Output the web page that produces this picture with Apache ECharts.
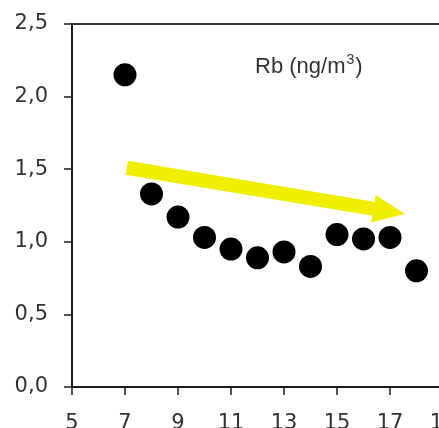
<!DOCTYPE html>
<html><head><meta charset="utf-8">
<script src="https://cdn.jsdelivr.net/npm/echarts@6/dist/echarts.min.js"></script>
<style>html,body{margin:0;padding:0;background:#fff}#c{width:439px;height:428px}</style>
</head><body><div id="c"></div>
<script>
var xValues = [7, 8, 9, 10, 11, 12, 13, 14, 15, 16, 17, 18];
var rbValues = [2.15, 1.33, 1.17, 1.03, 0.95, 0.89, 0.93, 0.83, 1.05, 1.02, 1.03, 0.80];
var arrowStart = [7.07, 1.51];
var arrowEnd = [16.97, 1.21];
var yTicks = [0, 0.5, 1.0, 1.5, 2.0, 2.5];
var xTicks = [5, 7, 9, 11, 13, 15, 17, 19];

var chart = echarts.init(document.getElementById('c'));
var points = xValues.map(function (x, i) { return [x, rbValues[i]]; });
var axisCol = '#1a1a1a';
chart.setOption({
  animation: false,
  title: {
    text: '{a|Rb (ng/m}{b|3}{a|)}',
    left: 250, top: 48,
    textStyle: {
      rich: {
        a: { fontFamily: 'Liberation Sans, Arial', fontSize: 22, fontWeight: 'normal', color: '#333', verticalAlign: 'bottom' },
        b: { fontFamily: 'Liberation Sans, Arial', fontSize: 14, fontWeight: 'normal', color: '#333', verticalAlign: 'top', padding: [0, 1, 11, 1] }
      }
    }
  },
  grid: { left: 72, top: 24, width: 371, height: 363, outerBoundsMode: 'none', containLabel: false },
  xAxis: [{
    type: 'value', min: xTicks[0], max: xTicks[xTicks.length - 1], interval: 2,
    axisLine: { onZero: false, lineStyle: { color: axisCol, width: 2 } },
    axisTick: { show: true, length: 8, lineStyle: { color: axisCol, width: 1.5 } },
    axisLabel: { fontFamily: 'DejaVu Sans', fontSize: 21, color: '#333', margin: 26, hideOverlap: false },
    splitLine: { show: false }
  }, {
    type: 'value', position: 'top', min: xTicks[0], max: xTicks[xTicks.length - 1],
    axisLine: { show: true, onZero: false, lineStyle: { color: '#333', width: 2 } },
    axisTick: { show: false }, axisLabel: { show: false }, splitLine: { show: false }
  }],
  yAxis: {
    type: 'value', min: yTicks[0], max: yTicks[yTicks.length - 1], interval: 0.5,
    axisLine: { show: true, onZero: false, lineStyle: { color: axisCol, width: 2 } },
    axisTick: { show: true, length: 8, lineStyle: { color: axisCol, width: 1.5 } },
    axisLabel: {
      fontFamily: 'DejaVu Sans', fontSize: 21, color: '#333', margin: 24,
      formatter: function (v) { return v.toFixed(1).replace('.', ','); }
    },
    splitLine: { show: false }
  },
  series: [{
    type: 'scatter', xAxisIndex: 0, data: points, symbolSize: 23,
    itemStyle: { color: '#000', opacity: 1 }, z: 3,
    emphasis: { disabled: true },
    markLine: {
      silent: true, animation: false,
      symbol: ['none', 'triangle'], symbolSize: [28, 32],
      label: { show: false },
      lineStyle: { color: '#f2ee00', width: 14, type: 'solid', cap: 'butt', opacity: 1 },
      emphasis: { disabled: true },
      data: [[{ coord: arrowStart }, { coord: arrowEnd }]]
    }
  }]
});
</script></body></html>
